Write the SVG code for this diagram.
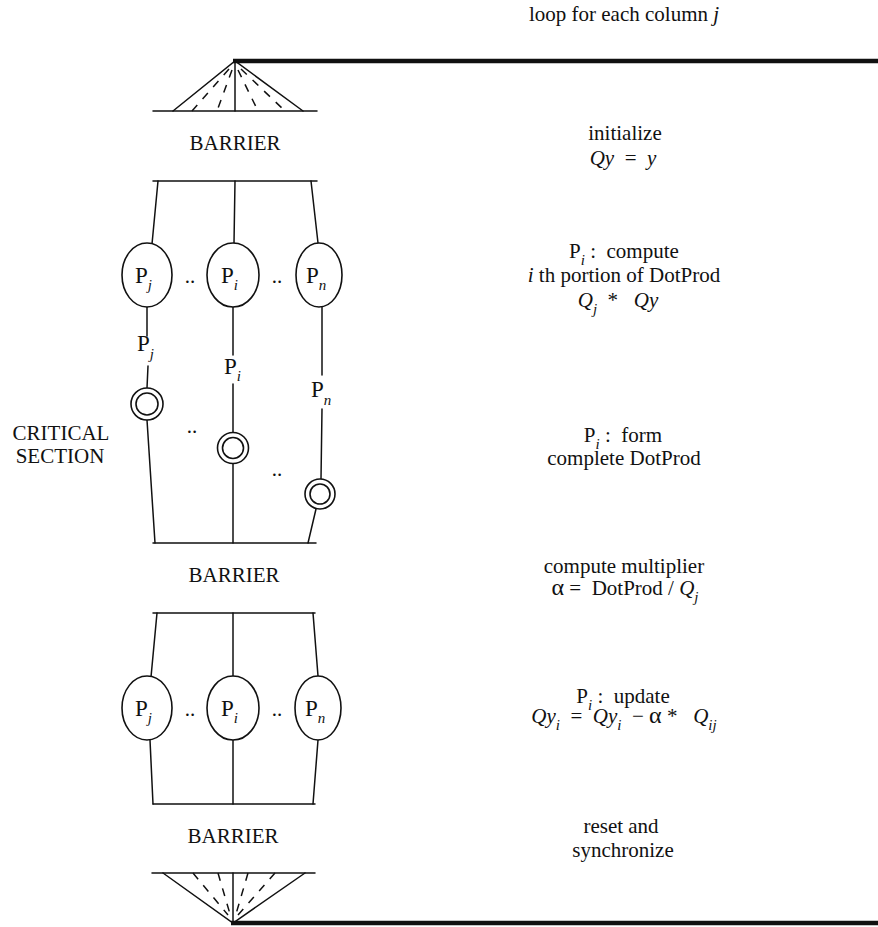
<svg xmlns="http://www.w3.org/2000/svg" width="878" height="927" viewBox="0 0 878 927">
  <style>
    .ln { stroke: #111; stroke-width: 1.5; fill: none; stroke-linecap: round; }
    .thick { stroke: #111; stroke-width: 4.5; fill: none; }
    .dash { stroke: #111; stroke-width: 1.5; fill: none; stroke-dasharray: 8 8; }
    .node { stroke: #111; stroke-width: 1.6; fill: #fff; }
    text { font-family: "Liberation Serif", "Times New Roman", serif; fill: #111; }
    .t { font-size: 21px; }
    .p { font-size: 23px; }
    .mid { text-anchor: middle; }
    .it { font-style: italic; }
    .sub { font-size: 15px; font-style: italic; }
  </style>

  <rect width="878" height="927" fill="#fff"/>

  <!-- loop bracket: opening fan-in -->
  <g id="barrier-top">
    <line class="thick" x1="233" y1="61" x2="878" y2="61"/>
    <line class="ln" x1="153" y1="111" x2="317" y2="111"/>
    <polyline class="ln" points="173,111 235,61 303,111"/>
    <line class="ln" x1="235" y1="61" x2="235" y2="111"/>
    <line class="dash" x1="229" y1="69" x2="192" y2="111"/>
    <line class="dash" x1="232" y1="70" x2="217" y2="111"/>
    <line class="dash" x1="238" y1="70" x2="258" y2="111"/>
    <line class="dash" x1="241" y1="69" x2="285" y2="111"/>
    <text class="t mid" x="235" y="150">BARRIER</text>
  </g>

  <!-- connectors -->
  <g id="connectors">
    <!-- first fork -->
    <line class="ln" x1="153" y1="181" x2="317" y2="181"/>
    <line class="ln" x1="158" y1="181" x2="152" y2="244"/>
    <line class="ln" x1="235" y1="181" x2="234" y2="243"/>
    <line class="ln" x1="311" y1="181" x2="318" y2="243"/>
    <!-- column j into critical section -->
    <line class="ln" x1="147" y1="307" x2="147" y2="336"/>
    <line class="ln" x1="148" y1="366" x2="147" y2="388"/>
    <line class="ln" x1="147" y1="420" x2="155" y2="543"/>
    <!-- column i -->
    <line class="ln" x1="233" y1="307" x2="233" y2="355"/>
    <line class="ln" x1="233" y1="384" x2="233" y2="433"/>
    <line class="ln" x1="233" y1="463" x2="233" y2="543"/>
    <!-- column n -->
    <line class="ln" x1="322" y1="307" x2="322" y2="375"/>
    <line class="ln" x1="322" y1="409" x2="321" y2="479"/>
    <line class="ln" x1="316" y1="509" x2="308" y2="543"/>
    <!-- join after critical section -->
    <line class="ln" x1="153" y1="543" x2="316" y2="543"/>
    <!-- second fork -->
    <line class="ln" x1="153" y1="613" x2="315" y2="613"/>
    <line class="ln" x1="157" y1="613" x2="151" y2="677"/>
    <line class="ln" x1="233" y1="613" x2="233" y2="676"/>
    <line class="ln" x1="313" y1="613" x2="318" y2="676"/>
    <line class="ln" x1="150" y1="740" x2="153" y2="804"/>
    <line class="ln" x1="233" y1="740" x2="233" y2="804"/>
    <line class="ln" x1="318" y1="740" x2="313" y2="804"/>
    <line class="ln" x1="153" y1="804" x2="315" y2="804"/>
  </g>

  <!-- processes: DotProd portions -->
  <g id="pj-1">
    <ellipse class="node" cx="147" cy="275" rx="25" ry="32"/>
    <text class="p" x="135" y="283">P<tspan class="sub" dy="7">j</tspan></text>
  </g>
  <g id="pi-1">
    <ellipse class="node" cx="233" cy="275" rx="26" ry="32"/>
    <text class="p" x="221" y="283">P<tspan class="sub" dy="7">i</tspan></text>
  </g>
  <g id="pn-1">
    <ellipse class="node" cx="319" cy="275" rx="23" ry="32"/>
    <text class="p" x="306" y="283">P<tspan class="sub" dy="7">n</tspan></text>
  </g>
  <g id="dots-1">
    <text class="t mid" x="190" y="283">..</text>
    <text class="t mid" x="277" y="283">..</text>
  </g>

  <!-- wire labels -->
  <g id="label-pj">
    <text class="p" x="137" y="351">P<tspan class="sub" dy="8">j</tspan></text>
  </g>
  <g id="label-pi">
    <text class="p" x="224" y="374">P<tspan class="sub" dy="7">i</tspan></text>
  </g>
  <g id="label-pn">
    <text class="p" x="311" y="397">P<tspan class="sub" dy="8">n</tspan></text>
  </g>

  <!-- critical section locks -->
  <g id="lock-j">
    <circle class="node" cx="147" cy="404" r="16"/>
    <circle class="node" cx="147" cy="404" r="11"/>
  </g>
  <g id="lock-i">
    <circle class="node" cx="233" cy="448" r="15.5"/>
    <circle class="node" cx="233" cy="448" r="10.5"/>
  </g>
  <g id="lock-n">
    <circle class="node" cx="320" cy="494" r="15"/>
    <circle class="node" cx="320" cy="494" r="10"/>
  </g>
  <g id="dots-2">
    <text class="t mid" x="192" y="433">..</text>
    <text class="t mid" x="277" y="476">..</text>
  </g>
  <g id="critical-section">
    <text class="t mid" x="61" y="440">CRITICAL</text>
    <text class="t mid" x="60" y="463">SECTION</text>
  </g>

  <g id="barrier-mid">
    <text class="t mid" x="234" y="582">BARRIER</text>
  </g>

  <!-- processes: update -->
  <g id="pj-2">
    <ellipse class="node" cx="147" cy="708" rx="25" ry="32"/>
    <text class="p" x="135" y="716">P<tspan class="sub" dy="7">j</tspan></text>
  </g>
  <g id="pi-2">
    <ellipse class="node" cx="233" cy="708" rx="26" ry="32"/>
    <text class="p" x="221" y="716">P<tspan class="sub" dy="7">i</tspan></text>
  </g>
  <g id="pn-2">
    <ellipse class="node" cx="318" cy="708" rx="23" ry="32"/>
    <text class="p" x="305" y="716">P<tspan class="sub" dy="7">n</tspan></text>
  </g>
  <g id="dots-3">
    <text class="t mid" x="190" y="716">..</text>
    <text class="t mid" x="277" y="716">..</text>
  </g>

  <!-- loop bracket: closing fan-out -->
  <g id="barrier-bottom">
    <text class="t mid" x="233" y="843">BARRIER</text>
    <line class="ln" x1="152" y1="873" x2="315" y2="873"/>
    <polyline class="ln" points="163,873 233,923 305,873"/>
    <line class="ln" x1="233" y1="873" x2="233" y2="923"/>
    <line class="dash" x1="193" y1="873" x2="228" y2="915"/>
    <line class="dash" x1="218" y1="873" x2="230" y2="914"/>
    <line class="dash" x1="248" y1="873" x2="236" y2="914"/>
    <line class="dash" x1="275" y1="873" x2="238" y2="915"/>
    <line class="thick" x1="231" y1="923" x2="878" y2="923"/>
  </g>

  <!-- step descriptions -->
  <g id="step-loop">
    <text class="t mid" x="624" y="21">loop for each column <tspan class="it">j</tspan></text>
  </g>
  <g id="step-init">
    <text class="t mid" x="625" y="140">initialize</text>
    <text class="t mid" x="623" y="165"><tspan class="it">Qy</tspan>&#160;&#160;=&#160;&#160;<tspan class="it">y</tspan></text>
  </g>
  <g id="step-dot">
    <text class="t mid" x="624" y="258">P<tspan class="sub" dy="7">i</tspan><tspan dy="-7">&#160;:&#160;&#160;compute</tspan></text>
    <text class="t mid" x="624" y="282"><tspan class="it">i</tspan> th portion of DotProd</text>
    <text class="t mid" x="618" y="307"><tspan class="it">Q</tspan><tspan class="sub" dy="7">j</tspan><tspan dy="-7">&#160;&#160;*&#160;&#160;&#160;</tspan><tspan class="it">Qy</tspan></text>
  </g>
  <g id="step-form">
    <text class="t mid" x="623" y="442">P<tspan class="sub" dy="7">i</tspan><tspan dy="-7">&#160;:&#160;&#160;form</tspan></text>
    <text class="t mid" x="624" y="465">complete DotProd</text>
  </g>
  <g id="step-mult">
    <text class="t mid" x="624" y="573">compute multiplier</text>
    <text class="t mid" x="625" y="595"><tspan font-size="24">α</tspan>&#160;=&#160;&#160;DotProd / <tspan class="it">Q</tspan><tspan class="sub" dy="7">j</tspan></text>
  </g>
  <g id="step-update">
    <text class="t mid" x="623" y="703">P<tspan class="sub" dy="7">i</tspan><tspan dy="-7">&#160;:&#160;&#160;update</tspan></text>
    <text class="t mid" x="624" y="723"><tspan class="it">Qy</tspan><tspan class="sub" dy="7">i</tspan><tspan dy="-7">&#160;&#160;=&#160;&#160;</tspan><tspan class="it">Qy</tspan><tspan class="sub" dy="7">i</tspan><tspan dy="-7">&#160;&#160;−&#160;</tspan><tspan font-size="24">α</tspan><tspan>&#160;*&#160;&#160;&#160;</tspan><tspan class="it">Q</tspan><tspan class="sub" dy="7">ij</tspan></text>
  </g>
  <g id="step-reset">
    <text class="t mid" x="621" y="833">reset and</text>
    <text class="t mid" x="623" y="857">synchronize</text>
  </g>
</svg>
